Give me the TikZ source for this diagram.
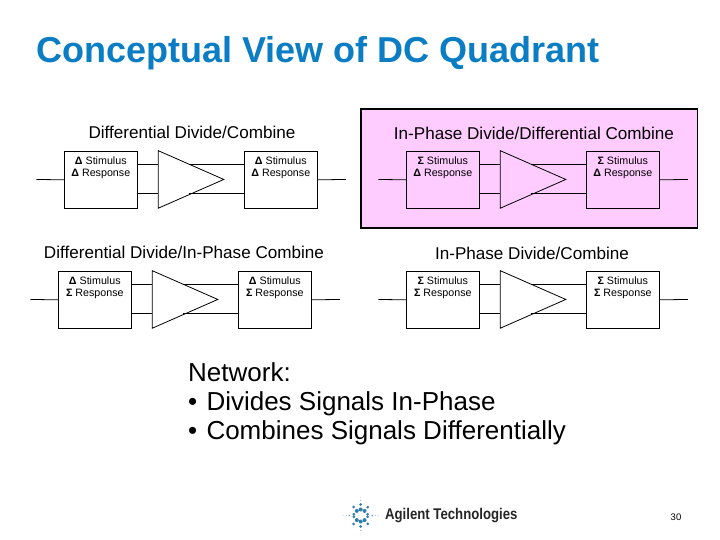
\documentclass[tikz,border=0pt]{standalone}
\usepackage{fontspec}
\setmainfont[Ligatures=NoCommon]{Liberation Sans}
\definecolor{titleblue}{HTML}{0A7DC4}
\definecolor{panelpink}{HTML}{FFCCFF}
\definecolor{logoblue}{HTML}{2F7FB0}
\newcommand{\symD}{{\bfseries Δ}}
\newcommand{\symS}{{\bfseries Σ}}
\tikzset{
  blockbox/.style={draw=black,line width=0.8pt,minimum width=72.4pt,minimum height=57.5pt,inner sep=0pt,anchor=north west},
  wire/.style={draw=black,line width=0.8pt},
  boxtext/.style={font=\fontsize{10.7pt}{12.2pt}\selectfont,align=center,anchor=north,inner sep=0pt},
  heading/.style={font=\fontsize{17.1pt}{20pt}\selectfont,inner sep=0pt},
  bodytext/.style={font=\fontsize{26pt}{29.2pt}\selectfont,align=left,anchor=north west,inner sep=0pt},
}
% #1 prefix, #2 left of first box, #3 top, #4/#5 symbols stimulus/response
\newcommand{\dcblock}[5]{%
  \node[blockbox] (#1a) at (#2,#3) {};
  \node[blockbox] (#1b) at (#2+180,#3) {};
  \coordinate (#1t1) at (#2+94,#3);
  \coordinate (#1t2) at (#2+94,#3+57.5);
  \coordinate (#1t3) at (#2+159.5,#3+28.75);
  \coordinate (#1in) at (#2-28,#3+28.75);
  \coordinate (#1out) at (#2+281.5,#3+28.75);
  \coordinate (#1p) at (#2+94,#3+13.6);
  \coordinate (#1q) at (#2+94,#3+42.4);
  \coordinate (#1r) at (#2+124.3,#3+13.6);
  \coordinate (#1s) at (#2+124.3,#3+42.4);
  \draw[wire] (#1in) -- (#1a.west);
  \draw[wire] (#1a.east |- #1p) -- (#1p);
  \draw[wire] (#1a.east |- #1q) -- (#1q);
  \draw[wire] (#1r) -- (#1b.west |- #1r);
  \draw[wire] (#1s) -- (#1b.west |- #1s);
  \draw[wire] (#1b.east) -- (#1out);
  \draw[wire,line join=miter] (#1t1) -- (#1t3) -- (#1t2) -- cycle;
  \node[boxtext] (#1la) at (#2+36.5,#3+5.5) {#4 Stimulus\\#5 Response};
  \node[boxtext] (#1lb) at (#2+216.5,#3+5.5) {#4 Stimulus\\#5 Response};
}
\begin{document}
\begin{tikzpicture}[x=1pt,y=-1pt]
\useasboundingbox (0,0) rectangle (720,540);
\fill[white] (0,0) rectangle (720,540);
\node[font=\fontsize{36pt}{40pt}\selectfont\bfseries,text=titleblue,anchor=base west,inner sep=0pt] (title) at (36,63) {Conceptual View of DC Quadrant};
\node[draw=black,line width=1.6pt,fill=panelpink,minimum width=336.5pt,minimum height=119.5pt,inner sep=0pt,anchor=north west] (panel) at (360,108) {};
\node[heading] (h1) at (192,132) {Differential Divide/Combine};
\node[heading] (h2) at (534,133) {In-Phase Divide/Differential Combine};
\node[heading] (h3) at (184,252) {Differential Divide/In-Phase Combine};
\node[heading] (h4) at (532,253) {In-Phase Divide/Combine};
\dcblock{A}{64.3}{150.7}{\symD}{\symD}
\dcblock{B}{406.3}{150.7}{\symS}{\symD}
\dcblock{C}{58.3}{270.7}{\symD}{\symS}
\dcblock{D}{406.3}{270.7}{\symS}{\symS}
\node[bodytext] (body) at (188,362.5) {Network:\\•\hspace{2pt} Divides Signals In-Phase\\•\hspace{2pt} Combines Signals Differentially};
% logo
\foreach \a in {50,90,130,230,270,310}{
  \fill[logoblue] (360.7,515.5) ++(\a:6) circle (2);
  \fill[logoblue] (360.7,515.5) ++(\a:11) circle (1.5);
}
\foreach \a in {10,170,190,350}{
  \fill[logoblue] (360.7,515.5) ++(\a:7) circle (1.5);
}
\foreach \a in {0,180}{
  \fill[logoblue!70] (360.7,515.5) ++(\a:11.5) circle (0.8);
  \fill[logoblue!50] (360.7,515.5) ++(\a:14.5) circle (0.6);
  \fill[logoblue!40] (360.7,515.5) ++(\a:17.5) circle (0.5);
}
\foreach \a in {90,270}{
  \fill[logoblue!60] (360.7,515.5) ++(\a:15) circle (0.7);
  \fill[red!40] (360.7,515.5) ++(\a:18.5) circle (0.4);
}
\node[font=\fontsize{15.5pt}{17pt}\selectfont\bfseries,xscale=0.85,text=black!85,anchor=west,inner sep=0pt] (logo) at (385,516) {Agilent Technologies};
\node[font=\fontsize{9.5pt}{11pt}\selectfont,inner sep=0pt] (page) at (676,517) {30};
\end{tikzpicture}
\end{document}
